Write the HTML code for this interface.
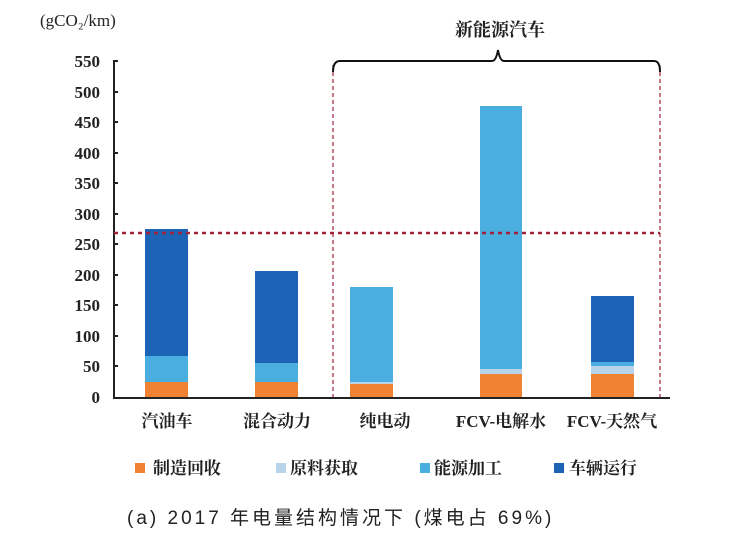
<!DOCTYPE html><html><head><meta charset="utf-8"><style>body{margin:0;background:#fff}svg{display:block}</style></head><body>
<svg width="735" height="544" xmlns="http://www.w3.org/2000/svg" font-family="'Liberation Serif','Noto Serif CJK SC',serif">
<text x="40" y="26" font-size="17" fill="#222">(gCO₂/km)</text>
<g font-size="17" font-weight="bold" fill="#222" text-anchor="end">
<text x="100" y="403">0</text><text x="100" y="372">50</text><text x="100" y="342">100</text><text x="100" y="311">150</text><text x="100" y="281">200</text><text x="100" y="250">250</text><text x="100" y="220">300</text><text x="100" y="189">350</text><text x="100" y="159">400</text><text x="100" y="128">450</text><text x="100" y="98">500</text><text x="100" y="67">550</text>
</g>
<g stroke="#222" stroke-width="2">
<line x1="114" y1="60" x2="114" y2="398"/><line x1="113" y1="398" x2="670" y2="398"/>
<path d="M114 61h4M114 92h4M114 122h4M114 153h4M114 183h4M114 214h4M114 244h4M114 275h4M114 305h4M114 336h4M114 366h4"/>
</g>
<g>
<rect x="145" y="229" width="43" height="127" fill="#1c63b5"/><rect x="145" y="356" width="43" height="26" fill="#4aaee0"/><rect x="145" y="382" width="43" height="15" fill="#ef8233"/>
<rect x="255" y="271" width="43" height="92" fill="#1c63b5"/><rect x="255" y="363" width="43" height="19" fill="#4aaee0"/><rect x="255" y="382" width="43" height="15" fill="#ef8233"/>
<rect x="350" y="287" width="43" height="95" fill="#4aaee0"/><rect x="350" y="382" width="43" height="2" fill="#b9d3ea"/><rect x="350" y="384" width="43" height="13" fill="#ef8233"/>
<rect x="480" y="106" width="42" height="265" fill="#4aaee0"/><rect x="480" y="369" width="42" height="5" fill="#b9d3ea"/><rect x="480" y="374" width="42" height="23" fill="#ef8233"/>
<rect x="591" y="296" width="43" height="66" fill="#1c63b5"/><rect x="591" y="362" width="43" height="4" fill="#4aaee0"/><rect x="591" y="366" width="43" height="8" fill="#b9d3ea"/><rect x="591" y="374" width="43" height="23" fill="#ef8233"/>
</g>
<g stroke="#a3213a" fill="none">
<line x1="114" y1="233" x2="660" y2="233" stroke-width="2.5" stroke-dasharray="4,4"/>
<line x1="333" y1="65" x2="333" y2="397" stroke-width="1.2" stroke-dasharray="4,3"/>
<line x1="660" y1="65" x2="660" y2="397" stroke-width="1.2" stroke-dasharray="4,3"/>
</g>
<path d="M333 72 Q333 61 340 61 H492 Q496 61 498 50 Q500 61 504 61 H654 Q660 61 660 72" stroke="#111" stroke-width="2" fill="none"/>
<text x="500" y="36" font-size="18" text-anchor="middle" fill="#222" font-weight="bold">新能源汽车</text>
<g font-size="17" fill="#222" text-anchor="middle" font-weight="bold">
<text x="167" y="427">汽油车</text><text x="277" y="427">混合动力</text><text x="385" y="427">纯电动</text><text x="501" y="427">FCV-电解水</text><text x="612" y="427">FCV-天然气</text>
</g>
<g font-size="17" fill="#222" font-weight="bold">
<rect x="135" y="463" width="10" height="10" fill="#ef8233"/><text x="153" y="474">制造回收</text>
<rect x="276" y="463" width="10" height="10" fill="#b9d3ea"/><text x="290" y="474">原料获取</text>
<rect x="420" y="463" width="10" height="10" fill="#4aaee0"/><text x="434" y="474">能源加工</text>
<rect x="554" y="463" width="10" height="10" fill="#1c63b5"/><text x="569" y="474">车辆运行</text>
</g>
<text x="127" y="524" font-size="19" fill="#222" letter-spacing="3" font-family="'Liberation Sans','Noto Sans CJK SC',sans-serif">(a) 2017 年电量结构情况下 (煤电占 69%)</text>
</svg></body></html>
